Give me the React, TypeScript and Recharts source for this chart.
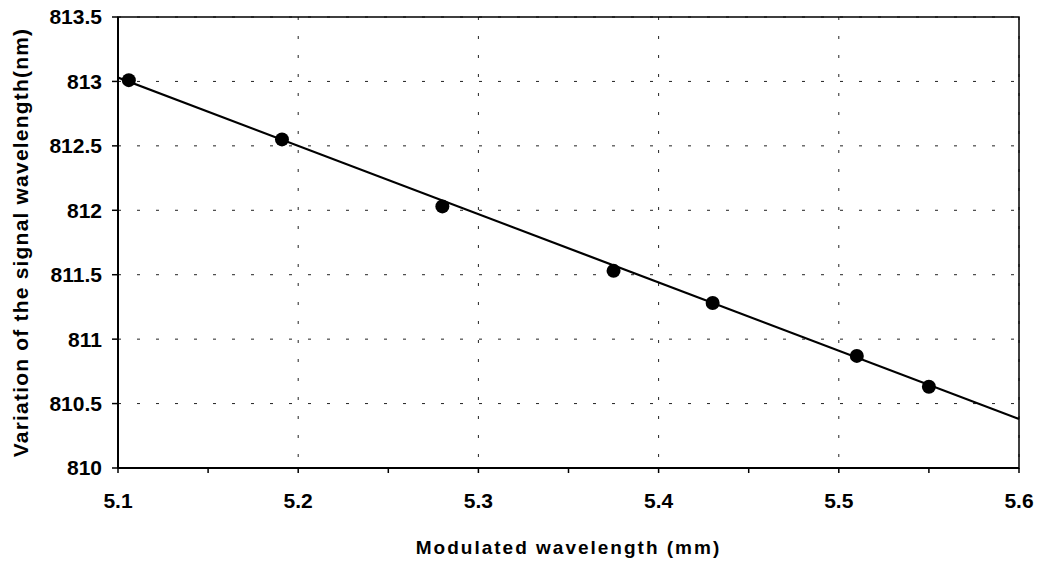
import React from 'react';
import {
  ComposedChart, Scatter, XAxis, YAxis, CartesianGrid, ReferenceArea, Label
} from 'recharts';

// measured points (modulated wavelength in mm, signal wavelength in nm)
const modulated = [5.106, 5.191, 5.28, 5.375, 5.43, 5.51, 5.55];
const signal = [813.01, 812.55, 812.03, 811.53, 811.28, 810.87, 810.63];

// linear fit drawn across the whole axis
const fitX = [5.1, 5.6];
const fitY = [813.03, 810.38];

const xTicks = [5.1, 5.2, 5.3, 5.4, 5.5, 5.6];
// tick marks on the x axis every 0.05, labels only on the tenths
const xTickMarks = [5.1, 5.15, 5.2, 5.25, 5.3, 5.35, 5.4, 5.45, 5.5, 5.55, 5.6];
const yTicks = [810, 810.5, 811, 811.5, 812, 812.5, 813, 813.5];

const points = modulated.map((x, i) => ({ x, y: signal[i] }));
const fitLine = fitX.map((x, i) => ({ x, y: fitY[i] }));

const FONT = '"Liberation Sans", Arial, sans-serif';

const Dot = (props: any) => {
  const { cx, cy } = props;
  return <circle cx={cx} cy={cy} r={7} fill="#000" />;
};

const NoDot = () => <g />;

const YTitle = (props: any) => {
  const { viewBox } = props;
  const cx = viewBox.x + 20;
  const cy = viewBox.y + viewBox.height / 2;
  return (
    <text
      x={cx}
      y={cy}
      transform={`rotate(-90, ${cx}, ${cy})`}
      textAnchor="middle"
      dominantBaseline="central"
      fontFamily={FONT}
      fontWeight="bold"
      fontSize={21}
      letterSpacing={1.2}
      fill="#000"
    >
      Variation of the signal wavelength(nm)
    </text>
  );
};

const XTitle = (props: any) => {
  const { viewBox } = props;
  return (
    <text
      x={viewBox.x + viewBox.width / 2}
      y={viewBox.y + 86}
      textAnchor="middle"
      fontFamily={FONT}
      fontWeight="bold"
      fontSize={19}
      letterSpacing={2}
      fill="#000"
    >
      Modulated wavelength (mm)
    </text>
  );
};

const fmtX = (v: number) =>
  xTicks.some((t) => Math.abs(t - v) < 1e-6) ? String(v) : '';

export default function App() {
  const tickStyle = { fill: '#000', fontFamily: FONT, fontWeight: 'bold', fontSize: 21 };
  return (
    <div style={{ margin: -8, background: '#fff' }}>
      <ComposedChart
        width={1047}
        height={567}
        margin={{ top: 17, right: 28, left: 0, bottom: 0 }}
      >
        <CartesianGrid
          stroke="#222"
          strokeDasharray="3 16"
          verticalValues={xTicks}
          horizontalValues={yTicks}
        />
        <XAxis
          type="number"
          dataKey="x"
          domain={[5.1, 5.6]}
          ticks={xTickMarks}
          tickFormatter={fmtX}
          interval={0}
          tick={tickStyle}
          tickSize={5}
          tickMargin={20}
          height={99}
          axisLine={{ stroke: '#000', strokeWidth: 2 }}
          tickLine={{ stroke: '#000', strokeWidth: 1.5 }}
          allowDataOverflow
        >
          <Label content={<XTitle />} />
        </XAxis>
        <YAxis
          type="number"
          dataKey="y"
          domain={[810, 813.5]}
          ticks={yTicks}
          tick={tickStyle}
          tickSize={6}
          tickMargin={10}
          width={118}
          axisLine={{ stroke: '#000', strokeWidth: 2 }}
          tickLine={{ stroke: '#000', strokeWidth: 1.5 }}
          allowDataOverflow
        >
          <Label content={<YTitle />} />
        </YAxis>
        <ReferenceArea x1={5.1} x2={5.6} y1={810} y2={813.5} fill="none" stroke="#000" strokeWidth={1.5} />
        <Scatter
          data={fitLine}
          line={{ stroke: '#000', strokeWidth: 2.2 }}
          shape={<NoDot />}
          isAnimationActive={false}
        />
        <Scatter data={points} shape={<Dot />} isAnimationActive={false} />
      </ComposedChart>
    </div>
  );
}
